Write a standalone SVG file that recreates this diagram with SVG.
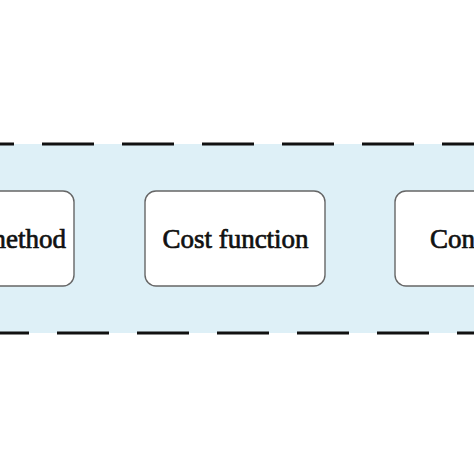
<svg xmlns="http://www.w3.org/2000/svg" width="474" height="474" viewBox="0 0 474 474">
<style>
.band{fill:#def0f7;}
.dash{stroke:#111;stroke-width:3.2;stroke-dasharray:52 28;fill:none;}
.box{fill:#fff;stroke:#666;stroke-width:1.4;}
.lbl{font-family:"Liberation Serif","Times New Roman",serif;font-size:27px;fill:#111;stroke:#111;stroke-width:0.7;}
</style>
<rect width="474" height="474" fill="#fff"/>
<rect class="band" x="0" y="144" width="474" height="189"/>
<g id="connectors">
<line class="dash" x1="-38" y1="144" x2="474" y2="144"/>
<line class="dash" x1="-23" y1="333" x2="474" y2="333"/>
</g>
<g id="node-method">
<rect class="box" x="-106" y="191" width="180" height="95" rx="11"/>
<text class="lbl" x="66" y="248" text-anchor="end">method</text>
</g>
<g id="node-cost">
<rect class="box" x="145" y="191" width="180" height="95" rx="11"/>
<text class="lbl" x="235.5" y="248" text-anchor="middle">Cost function</text>
</g>
<g id="node-con">
<rect class="box" x="395" y="191" width="180" height="95" rx="11"/>
<text class="lbl" x="430" y="248">Con</text>
</g>
</svg>
